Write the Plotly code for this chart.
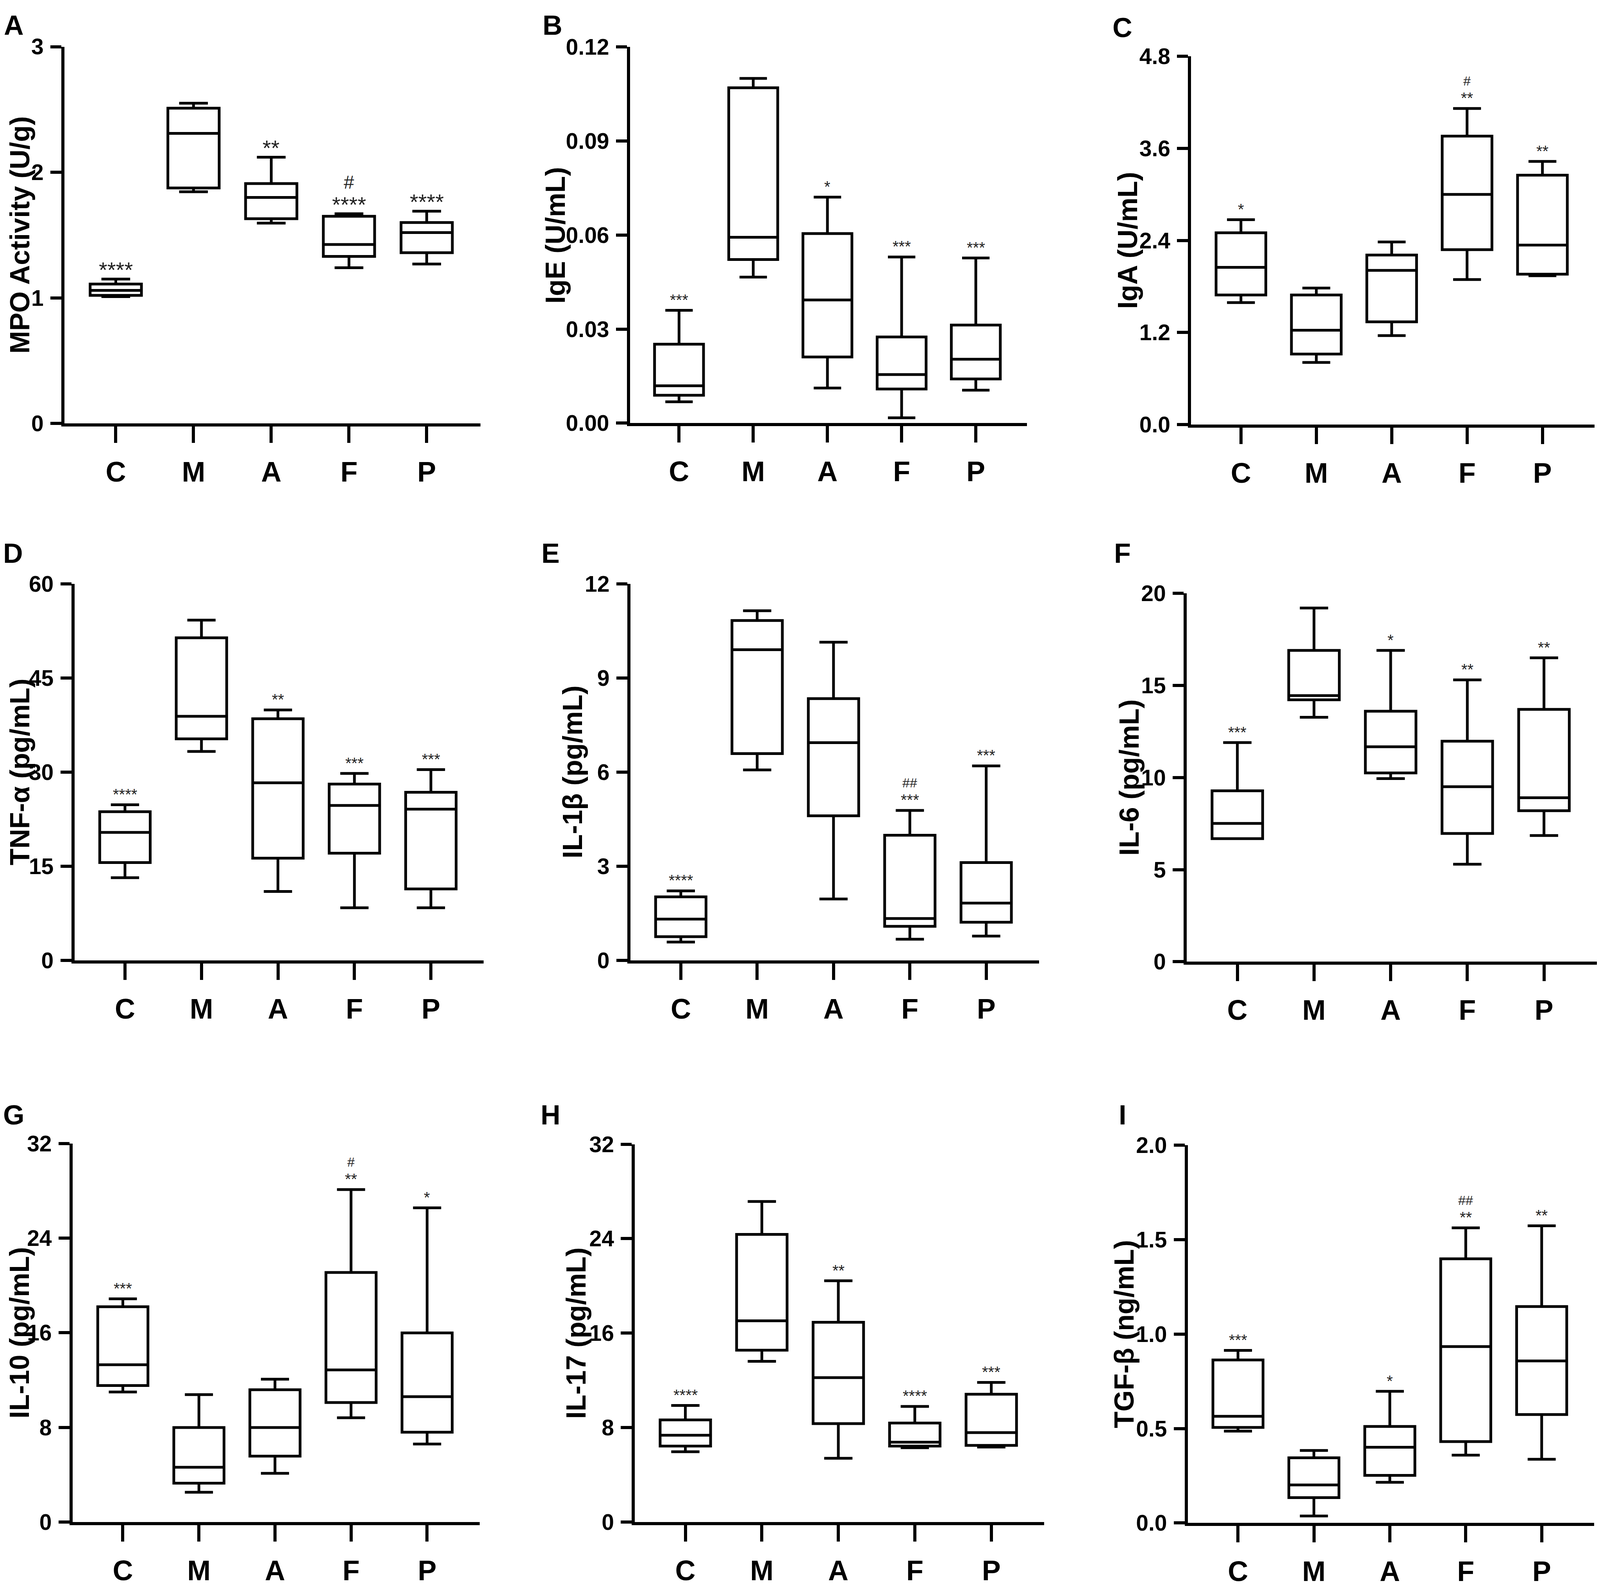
import plotly.graph_objects as go

# reference picture size (pixel positions below are read from it)
REF_W, REF_H = 4317, 4071
# the browser viewport is 4096 wide and the page body has an 8px margin
VIEW_W = 4096
FIG_W, FIG_H = 4080, 4055

GROUPS = ["C", "M", "A", "F", "P"]

# A - MPO activity (U/g)
MPO_LOW = [1.01, 1.845, 1.595, 1.24, 1.27]
MPO_Q1 = [1.02, 1.875, 1.63, 1.33, 1.36]
MPO_MED = [1.06, 2.31, 1.80, 1.425, 1.52]
MPO_Q3 = [1.11, 2.51, 1.91, 1.65, 1.60]
MPO_HIGH = [1.15, 2.55, 2.12, 1.67, 1.69]
MPO_STARS = ["****", "", "**", "****", "****"]
MPO_HASH = ["", "", "", "#", ""]

# B - IgE (U/mL)
IGE_LOW = [0.0068, 0.0466, 0.0112, 0.0017, 0.0105]
IGE_Q1 = [0.0089, 0.0522, 0.0211, 0.0109, 0.0141]
IGE_MED = [0.0119, 0.0593, 0.0393, 0.0155, 0.0204]
IGE_Q3 = [0.0252, 0.107, 0.0605, 0.0275, 0.0313]
IGE_HIGH = [0.036, 0.110, 0.0721, 0.053, 0.0527]
IGE_STARS = ["***", "", "*", "***", "***"]
IGE_HASH = ["", "", "", "", ""]

# C - IgA (U/mL)
IGA_LOW = [1.59, 0.81, 1.16, 1.89, 1.94]
IGA_Q1 = [1.69, 0.92, 1.34, 2.28, 1.96]
IGA_MED = [2.05, 1.23, 2.01, 3.00, 2.34]
IGA_Q3 = [2.50, 1.69, 2.21, 3.76, 3.25]
IGA_HIGH = [2.67, 1.78, 2.38, 4.12, 3.43]
IGA_STARS = ["*", "", "", "**", "**"]
IGA_HASH = ["", "", "", "#", ""]

# D - TNF-α (pg/mL)
TNF_LOW = [13.2, 33.3, 11.0, 8.4, 8.4]
TNF_Q1 = [15.6, 35.3, 16.3, 17.1, 11.4]
TNF_MED = [20.4, 38.9, 28.3, 24.7, 24.1]
TNF_Q3 = [23.7, 51.4, 38.5, 28.1, 26.8]
TNF_HIGH = [24.8, 54.2, 39.9, 29.8, 30.4]
TNF_STARS = ["****", "", "**", "***", "***"]
TNF_HASH = ["", "", "", "", ""]

# E - IL-1β (pg/mL)
IL1B_LOW = [0.59, 6.07, 1.96, 0.68, 0.78]
IL1B_Q1 = [0.76, 6.59, 4.61, 1.09, 1.22]
IL1B_MED = [1.32, 9.90, 6.94, 1.34, 1.83]
IL1B_Q3 = [2.03, 10.83, 8.34, 3.99, 3.12]
IL1B_HIGH = [2.22, 11.14, 10.14, 4.78, 6.20]
IL1B_STARS = ["****", "", "", "***", "***"]
IL1B_HASH = ["", "", "", "##", ""]

# F - IL-6 (pg/mL)
IL6_LOW = [6.68, 13.27, 9.94, 5.29, 6.85]
IL6_Q1 = [6.68, 14.22, 10.25, 6.96, 8.20]
IL6_MED = [7.51, 14.45, 11.67, 9.50, 8.90]
IL6_Q3 = [9.28, 16.90, 13.60, 11.97, 13.70]
IL6_HIGH = [11.9, 19.2, 16.9, 15.3, 16.5]
IL6_STARS = ["***", "", "*", "**", "**"]
IL6_HASH = ["", "", "", "", ""]

# G - IL-10 (pg/mL)
IL10_LOW = [11.0, 2.53, 4.13, 8.82, 6.60]
IL10_Q1 = [11.54, 3.29, 5.58, 10.11, 7.60]
IL10_MED = [13.3, 4.64, 8.00, 12.86, 10.60]
IL10_Q3 = [18.2, 8.00, 11.19, 21.1, 15.99]
IL10_HIGH = [18.87, 10.78, 12.08, 28.1, 26.56]
IL10_STARS = ["***", "", "", "**", "*"]
IL10_HASH = ["", "", "", "#", ""]

# H - IL-17 (pg/mL)
IL17_LOW = [5.96, 13.62, 5.41, 6.30, 6.36]
IL17_Q1 = [6.44, 14.56, 8.34, 6.44, 6.50]
IL17_MED = [7.36, 17.05, 12.24, 6.77, 7.58]
IL17_Q3 = [8.66, 24.36, 16.92, 8.39, 10.83]
IL17_HIGH = [9.88, 27.15, 20.44, 9.80, 11.83]
IL17_STARS = ["****", "", "**", "****", "***"]
IL17_HASH = ["", "", "", "", ""]

# I - TGF-β (ng/mL)
TGF_LOW = [0.486, 0.037, 0.215, 0.359, 0.337]
TGF_Q1 = [0.506, 0.134, 0.252, 0.431, 0.574]
TGF_MED = [0.565, 0.201, 0.401, 0.934, 0.858]
TGF_Q3 = [0.863, 0.345, 0.511, 1.399, 1.146]
TGF_HIGH = [0.914, 0.384, 0.697, 1.563, 1.574]
TGF_STARS = ["***", "", "*", "**", "**"]
TGF_HASH = ["", "", "", "##", ""]

FONT = "Liberation Sans, Arial, sans-serif"

# (letter, y title, ticks, tick format, data, stars, hashes,
#  reference pixel geometry: axis x, axis end x, zero y, top y,
#  title centre x, letter x, letter y)
panels = [
    ("A", "MPO Activity (U/g)", [0, 1, 2, 3], "{:.0f}",
     (MPO_LOW, MPO_Q1, MPO_MED, MPO_Q3, MPO_HIGH), MPO_STARS, MPO_HASH,
     (174, 1296, 1072, 89, 42, 37, 33)),
    ("B", "IgE (U/mL)", [0, 0.03, 0.06, 0.09, 0.12], "{:.2f}",
     (IGE_LOW, IGE_Q1, IGE_MED, IGE_Q3, IGE_HIGH), IGE_STARS, IGE_HASH,
     (1700, 2771, 1071, 90, 1508, 1491, 33)),
    ("C", "IgA (U/mL)", [0, 1.2, 2.4, 3.6, 4.8], "{:.1f}",
     (IGA_LOW, IGA_Q1, IGA_MED, IGA_Q3, IGA_HIGH), IGA_STARS, IGA_HASH,
     (3214, 4302, 1075, 114, 3052, 3029, 40)),
    ("D", "TNF-α (pg/mL)", [0, 15, 30, 45, 60], "{:.0f}",
     (TNF_LOW, TNF_Q1, TNF_MED, TNF_Q3, TNF_HIGH), TNF_STARS, TNF_HASH,
     (201, 1305, 2473, 1490, 37, 35, 1411)),
    ("E", "IL-1β (pg/mL)", [0, 3, 6, 9, 12], "{:.0f}",
     (IL1B_LOW, IL1B_Q1, IL1B_MED, IL1B_Q3, IL1B_HIGH), IL1B_STARS, IL1B_HASH,
     (1701, 2803, 2473, 1490, 1555, 1486, 1411)),
    ("F", "IL-6 (pg/mL)", [0, 5, 10, 15, 20], "{:.0f}",
     (IL6_LOW, IL6_Q1, IL6_MED, IL6_Q3, IL6_HIGH), IL6_STARS, IL6_HASH,
     (3202, 4310, 2476, 1515, 3057, 3029, 1411)),
    ("G", "IL-10 (pg/mL)", [0, 8, 16, 24, 32], "{:.0f}",
     (IL10_LOW, IL10_Q1, IL10_MED, IL10_Q3, IL10_HIGH), IL10_STARS, IL10_HASH,
     (196, 1294, 3938, 2950, 37, 37, 2876)),
    ("H", "IL-17 (pg/mL)", [0, 8, 16, 24, 32], "{:.0f}",
     (IL17_LOW, IL17_Q1, IL17_MED, IL17_Q3, IL17_HIGH), IL17_STARS, IL17_HASH,
     (1713, 2817, 3938, 2952, 1565, 1486, 2876)),
    ("I", "TGF-β (ng/mL)", [0, 0.5, 1.0, 1.5, 2.0], "{:.1f}",
     (TGF_LOW, TGF_Q1, TGF_MED, TGF_Q3, TGF_HIGH), TGF_STARS, TGF_HASH,
     (3205, 4301, 3940, 2955, 3043, 3029, 2876)),
]

SX = VIEW_W / REF_W


def px(x):
    # reference pixel x -> paper fraction
    return min(1.0, max(0.0, (x * SX - 8) / FIG_W))


def py(y):
    # reference pixel y -> paper fraction
    return min(1.0, max(0.0, 1 - (y - 8) / FIG_H))


TITLE_SIZE = 70

fig = go.Figure()
annotations = []
layout_axes = {}

for i, (letter, title, ticks, fmt, data, stars, hashes, geo) in enumerate(panels, start=1):
    low, q1, med, q3, high = data
    x0, x1, y_zero, y_top, title_x, letter_x, letter_y = geo
    xa = "x" if i == 1 else f"x{i}"
    ya = "y" if i == 1 else f"y{i}"

    fig.add_trace(
        go.Box(
            x=GROUPS,
            lowerfence=low,
            q1=q1,
            median=med,
            q3=q3,
            upperfence=high,
            boxpoints=False,
            fillcolor="white",
            line=dict(color="black", width=7),
            width=0.66,
            whiskerwidth=0.56,
            xaxis=xa,
            yaxis=ya,
            showlegend=False,
            hoverinfo="skip",
        )
    )

    suffix = "" if i == 1 else str(i)
    layout_axes["xaxis" + suffix] = dict(
        domain=[px(x0), px(x1)],
        anchor=ya,
        type="category",
        categoryorder="array",
        categoryarray=GROUPS,
        range=[-0.66, 4.69],
        showline=True,
        linewidth=8,
        linecolor="black",
        ticks="outside",
        ticklen=42,
        tickwidth=8,
        tickcolor="black",
        ticklabelstandoff=12,
        tickfont=dict(family=FONT, size=72, color="black", weight="bold"),
        showgrid=False,
        zeroline=False,
    )
    layout_axes["yaxis" + suffix] = dict(
        domain=[py(y_zero), py(y_top)],
        anchor=xa,
        range=[0, ticks[-1]],
        tickvals=ticks,
        ticktext=[fmt.format(t) for t in ticks],
        showline=True,
        linewidth=8,
        linecolor="black",
        ticks="outside",
        ticklen=28,
        tickwidth=8,
        tickcolor="black",
        ticklabelstandoff=6,
        tickfont=dict(family=FONT, size=57, color="black", weight="bold"),
        showgrid=False,
        zeroline=False,
    )

    # y axis title, rotated; centre the text box so its baseline sits where the
    # reference has it, but keep the whole text box inside the left edge
    baseline = max((title_x + 16) * SX - 8, 0.93 * TITLE_SIZE + 2)
    annotations.append(dict(
        text=title, xref="paper", yref="paper",
        x=(baseline - 0.35 * TITLE_SIZE) / FIG_W, y=py((y_zero + y_top) / 2),
        xanchor="center", yanchor="middle", textangle=-90, showarrow=False,
        font=dict(family=FONT, size=TITLE_SIZE, color="black", weight="bold"),
    ))
    # panel letter
    annotations.append(dict(
        text=letter, xref="paper", yref="paper",
        x=px(letter_x), y=py(letter_y),
        xanchor="center", yanchor="middle", showarrow=False,
        font=dict(family=FONT, size=70, color="black", weight="bold"),
    ))

    # significance marks above the upper whiskers
    size = 56 if letter == "A" else 40
    star_shift = 33 - 0.76 * size
    hash_shift = star_shift + (62 if letter == "A" else 47)
    for g, s, h, top in zip(GROUPS, stars, hashes, high):
        if s:
            annotations.append(dict(
                text=s, xref=xa, yref=ya, x=g, y=top,
                xanchor="center", yanchor="bottom", yshift=star_shift,
                showarrow=False,
                font=dict(family=FONT, size=size, color="#222222"),
            ))
        if h:
            annotations.append(dict(
                text=h, xref=xa, yref=ya, x=g, y=top,
                xanchor="center", yanchor="bottom", yshift=hash_shift,
                showarrow=False,
                font=dict(family=FONT, size=size * 0.85, color="#222222"),
            ))

fig.update_layout(
    width=FIG_W,
    height=FIG_H,
    margin=dict(l=0, r=0, t=0, b=0),
    paper_bgcolor="white",
    plot_bgcolor="white",
    showlegend=False,
    annotations=annotations,
    **layout_axes,
)

fig.write_html("out.html")
